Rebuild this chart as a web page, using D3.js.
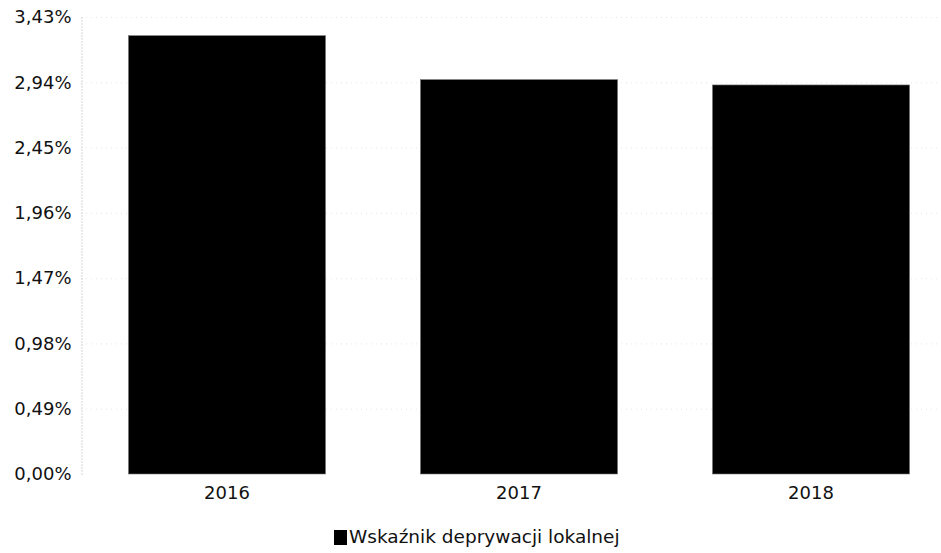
<!DOCTYPE html>
<html><head><meta charset="utf-8">
<script src="https://cdn.jsdelivr.net/npm/d3@7"></script>
<style>body{margin:0;background:#fff}svg{display:block}text{font-family:"DejaVu Sans",sans-serif}</style>
</head><body>
<svg id="c" width="941" height="553"></svg>
<script>
const categories = ["2016", "2017", "2018"];
const values = [3.29, 2.96, 2.92];
const tickValues = [0, 0.49, 0.98, 1.47, 1.96, 2.45, 2.94, 3.43];
const seriesName = "Wskaźnik deprywacji lokalnej";

const FONT = "DejaVu Sans, sans-serif";
const svg = d3.select("#c");
const x = d3.scaleBand().domain(categories).range([81, 957]).paddingInner(0.325).paddingOuter(0.1625);
const y = d3.scaleLinear().domain([0, 3.43]).range([474, 17]);
const fmt = v => v.toFixed(2).replace(".", ",") + "%";

// gridlines (faint, dotted)
svg.append("g").selectAll("line").data(tickValues.slice(1)).join("line")
  .attr("x1", 81).attr("x2", 941).attr("y1", d => y(d) + 0.5).attr("y2", d => y(d) + 0.5)
  .attr("stroke", "#e6e6e6").attr("stroke-dasharray", "1,4");

// y axis
const ya = svg.append("g").attr("transform", "translate(81.5,0)")
  .call(d3.axisLeft(y).tickValues(tickValues).tickFormat(fmt).tickSize(0).tickPadding(10));
ya.select(".domain").attr("stroke", "#aaa").attr("stroke-dasharray", "1,2");
ya.selectAll("text").attr("font-size", 18).attr("fill", "#111").attr("font-family", FONT);

// bars
svg.append("g").selectAll("rect").data(values).join("rect")
  .attr("x", (d, i) => x(categories[i])).attr("width", x.bandwidth())
  .attr("y", d => y(d)).attr("height", d => y(0) - y(d))
  .attr("fill", "#000").attr("stroke", "#777").attr("stroke-width", 0.6);

// x axis
const xa = svg.append("g").attr("transform", "translate(0,474)")
  .call(d3.axisBottom(x).tickSize(0).tickPadding(12));
xa.select(".domain").remove();
xa.selectAll("text").attr("font-size", 18).attr("fill", "#111").attr("font-family", FONT);

// legend
const lg = svg.append("g").attr("transform", "translate(334,530)");
lg.append("rect").attr("width", 13).attr("height", 15).attr("fill", "#000");
lg.append("text").attr("x", 15).attr("y", 13).attr("font-size", 18.5).attr("fill", "#111")
  .attr("font-family", FONT).text(seriesName);
</script>
</body></html>
